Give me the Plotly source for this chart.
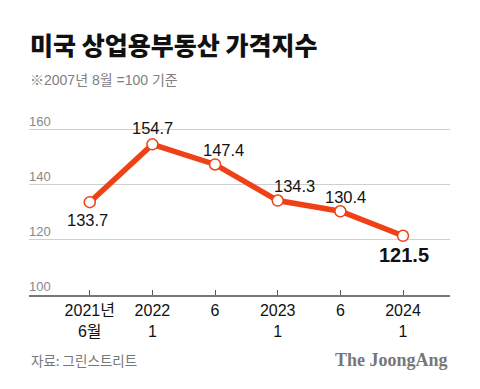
import plotly.graph_objects as go

categories = ["2021년<br>6월", "2022<br>1", "6", "2023<br>1", "6", "2024<br>1"]
values = [133.7, 154.7, 147.4, 134.3, 130.4, 121.5]
y_ticks = [100, 120, 140, 160]

x = list(range(len(values)))
RED = "#ee4216"
FONT = "Liberation Sans, Noto Sans CJK KR, sans-serif"

# page body has an 8px default margin; work in reference pixel coords minus 8
OFF = 8
W, H = 480 - OFF, 389 - OFF
L, R, T, B = 29 - OFF, 30, 116 - OFF, 94

fig = go.Figure()
fig.add_trace(go.Scatter(
    x=x, y=values, mode="lines+markers",
    line=dict(color=RED, width=5.5),
    marker=dict(size=11, color="white", line=dict(color=RED, width=1.5)),
    hoverinfo="skip", cliponaxis=False,
))

# value labels
offsets = [(-2, -18), (0, 16), (8, 14), (17, 15), (5, 14), (1, -19)]
for i, v in enumerate(values):
    dx, dy = offsets[i]
    last = i == len(values) - 1
    fig.add_annotation(
        x=i, y=v, text=f"<b>{v}</b>" if last else f"{v}", showarrow=False,
        xshift=dx, yshift=dy, yanchor="middle",
        font=dict(family=FONT, size=20 if last else 16.5, color="#111"),
    )

# y tick labels above gridlines
for t in y_ticks:
    fig.add_annotation(
        x=0, xref="paper", y=t, yref="y", text=str(t), showarrow=False,
        xanchor="left", yanchor="bottom", yshift=-1, xshift=-2,
        font=dict(family=FONT, size=13, color="#888"),
    )

fig.update_layout(
    width=W, height=H,
    margin=dict(l=L, r=R, t=T, b=B),
    paper_bgcolor="white", plot_bgcolor="white",
    showlegend=False,
    font=dict(family=FONT),
    xaxis=dict(
        range=[-0.97, 5.75], tickvals=x, ticktext=categories,
        showgrid=False, zeroline=False,
        showline=True, linecolor="#777", linewidth=2,
        ticks="inside", ticklen=5, tickcolor="#555", tickwidth=1,
        tickfont=dict(family=FONT, size=16, color="#111"),
        fixedrange=True,
    ),
    yaxis=dict(
        range=[100, 165], tickvals=y_ticks, showticklabels=False,
        showgrid=True, gridcolor="#cfcfcf", gridwidth=1,
        zeroline=False, showline=False, fixedrange=True,
    ),
)

def py(p):
    p -= OFF
    plot_top, plot_bot = T, H - B
    return (plot_bot - p) / (plot_bot - plot_top)

def px(p):
    p -= OFF
    return (p - L) / (W - L - R)

fig.add_annotation(x=px(28), y=py(44), xref="paper", yref="paper",
                   text="미국 상업용부동산 가격지수", showarrow=False,
                   xanchor="left", yanchor="middle",
                   font=dict(family="Noto Sans CJK KR", size=25, color="#111", weight=900))
fig.add_annotation(x=px(28), y=py(80), xref="paper", yref="paper",
                   text="※2007년 8월 =100 기준", showarrow=False,
                   xanchor="left", yanchor="middle",
                   font=dict(family=FONT, size=14, color="#808080"))
fig.add_annotation(x=px(29), y=py(360), xref="paper", yref="paper",
                   text="자료: 그린스트리트", showarrow=False,
                   xanchor="left", yanchor="middle",
                   font=dict(family="Noto Sans CJK KR", size=13.5, color="#777"))
fig.add_annotation(x=px(450), y=py(360), xref="paper", yref="paper",
                   text="<b>The JoongAng</b>", showarrow=False,
                   xanchor="right", yanchor="middle",
                   font=dict(family="Liberation Serif, DejaVu Serif, serif", size=18, color="#777"))

fig.write_html("out.html")
